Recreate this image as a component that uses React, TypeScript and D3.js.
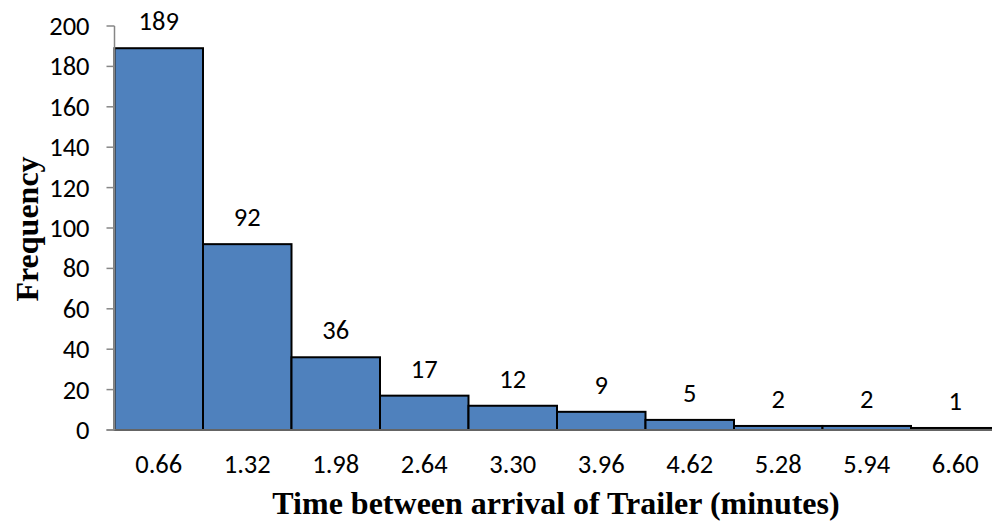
import React from "react";
import * as d3 from "d3";

const binLabels = ["0.66", "1.32", "1.98", "2.64", "3.30", "3.96", "4.62", "5.28", "5.94", "6.60"];
const frequencies = [189, 92, 36, 17, 12, 9, 5, 2, 2, 1];
const yTicks = [0, 20, 40, 60, 80, 100, 120, 140, 160, 180, 200];

const W = 992;
const H = 522;
const left = 114.5;
const right = 999.5;
const top = 26;
const bottom = 430;

export default function App() {
  const x = d3.scaleBand<string>().domain(binLabels).range([left, right]).padding(0);
  const y = d3.scaleLinear().domain([0, 200]).range([bottom, top]);
  const labelFont = "Carlito, Lato, 'Liberation Sans', sans-serif";
  const titleFont = "'Liberation Serif', 'Times New Roman', serif";
  const fs = 26.5;

  return (
    <svg width={W} height={H} style={{ position: "absolute", left: 0, top: 0, background: "#fff" }}>
      {/* bars */}
      {frequencies.map((f, i) => {
        const x0 = x(binLabels[i])!;
        return (
          <rect
            key={i}
            x={x0}
            y={y(f)}
            width={x.bandwidth()}
            height={bottom - y(f)}
            fill="#4F81BD"
            stroke="#000"
            strokeWidth={2}
          />
        );
      })}
      {/* y axis */}
      <line x1={left} x2={left} y1={top} y2={bottom} stroke="#868686" strokeWidth={1.5} />
      {yTicks.map((t) => (
        <g key={t}>
          <line x1={left - 8} x2={left} y1={y(t)} y2={y(t)} stroke="#868686" strokeWidth={1.5} />
          <text x={left - 25} y={y(t)} dy="0.34em" textAnchor="end" fontFamily={labelFont} fontSize={fs} fill="#000">
            {t}
          </text>
        </g>
      ))}
      {/* x baseline */}
      <line x1={left - 8} x2={right} y1={bottom} y2={bottom} stroke="#868686" strokeWidth={1.5} />
      {/* category labels */}
      {binLabels.map((b) => (
        <text key={b} x={x(b)! + x.bandwidth() / 2} y={473} textAnchor="middle" fontFamily={labelFont} fontSize={fs} fill="#000">
          {b}
        </text>
      ))}
      {/* value labels */}
      {frequencies.map((f, i) => (
        <text
          key={i}
          x={x(binLabels[i])! + x.bandwidth() / 2}
          y={y(f) - 18}
          textAnchor="middle"
          fontFamily={labelFont}
          fontSize={fs}
          fill="#000"
        >
          {f}
        </text>
      ))}
      {/* axis titles */}
      <text x={556} y={514} textAnchor="middle" fontFamily={titleFont} fontWeight="bold" fontSize={32} fill="#000">
        Time between arrival of Trailer (minutes)
      </text>
      <text
        transform={`translate(38, 229) rotate(-90)`}
        textAnchor="middle"
        fontFamily={titleFont}
        fontWeight="bold"
        fontSize={32}
        fill="#000"
      >
        Frequency
      </text>
    </svg>
  );
}
